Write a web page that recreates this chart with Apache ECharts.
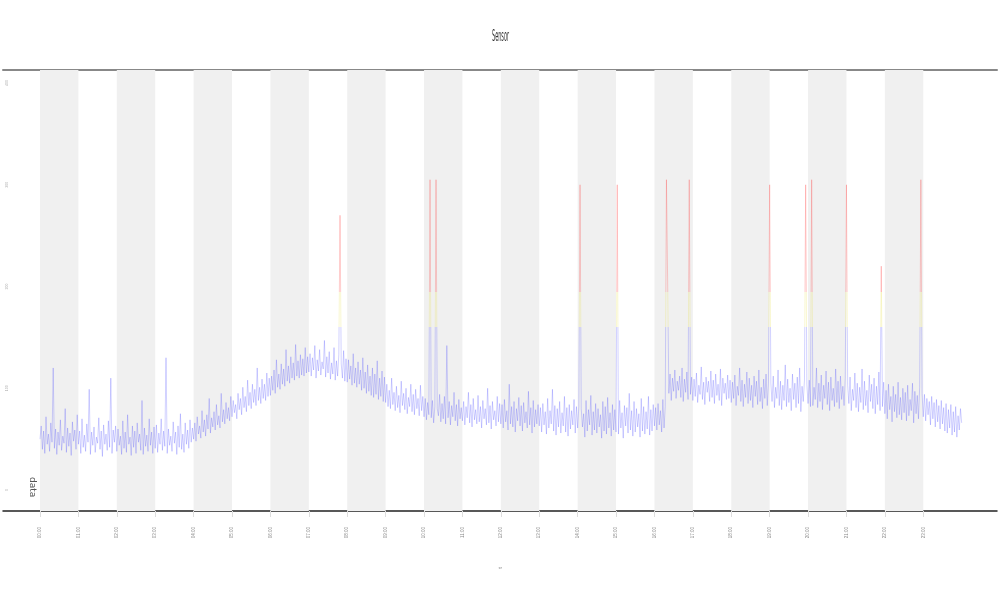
<!DOCTYPE html>
<html>
<head>
<meta charset="utf-8">
<script src="https://cdn.jsdelivr.net/npm/echarts@6/dist/echarts.min.js"></script>
<style>html,body{margin:0;padding:0;background:#fff}#c{width:1000px;height:600px}</style>
</head>
<body>
<div id="c"></div>
<script>
// ---- data (samples per hour) ----
const titleText = 'Sensor';
const xName = 't';
const yName = 'value';
const legendText = 'data';
const hourTicks = [0,1,2,3,4,5,6,7,8,9,10,11,12,13,14,15,16,17,18,19,20,21,22,23];
const hourLabels = ['00:00','01:00','02:00','03:00','04:00','05:00','06:00','07:00','08:00','09:00','10:00','11:00','12:00','13:00','14:00','15:00','16:00','17:00','18:00','19:00','20:00','21:00','22:00','23:00'];
const yTicks = [0,100,200,300,400];
const shadedHours = [[0,1],[2,3],[4,5],[6,7],[8,9],[10,11],[12,13],[14,15],[16,17],[18,19],[20,21],[22,23]];
const h00 = [50,63,40,58,36,72,45,55,38,66,47,120,41,60,35,57,44,69,39,53,46,80,37,61,43,56,34,67,48,59,40,74];
const h01 = [45,58,36,70,42,54,38,65,47,99,35,57,44,62,37,52,46,71,40,58,33,64,45,55,39,68,42,110,36,59,47,63];
const h02 = [38,60,44,53,35,68,41,57,37,74,45,52,34,63,42,58,36,66,47,55,39,88,35,61,43,54,38,70,44,57,36,62];
const h03 = [41,64,37,56,45,70,39,58,43,130,36,60,44,53,38,67,46,57,35,63,42,75,40,55,37,66,45,59,41,69,47,61];
const h04 = [50,66,48,72,55,63,51,78,57,69,53,74,60,90,56,71,62,77,59,84,64,73,61,95,67,79,65,86,70,81,68,92];
const h05 = [72,88,76,84,70,95,79,90,74,101,81,92,77,108,83,96,80,104,86,99,83,120,88,101,85,109,90,104,88,115,92,110];
const h06 = [93,112,98,118,95,128,101,114,99,124,104,119,102,138,107,122,105,131,110,125,108,143,112,127,110,133,113,129,112,140,115,131];
const h07 = [116,134,112,130,118,142,110,128,117,138,113,126,119,147,111,131,115,136,109,125,114,140,108,127,112,133,270,124,110,137,107,129];
const h08 = [106,128,109,122,103,134,105,120,101,126,104,118,98,130,100,116,95,123,97,112,93,120,91,114,94,127,89,110,92,117,87,111];
const h09 = [86,104,82,98,80,110,84,96,78,102,81,93,76,107,83,95,79,100,75,91,82,104,77,94,74,99,80,90,73,103,78,92];
const h10 = [72,90,69,86,74,305,71,88,66,82,305,80,73,94,67,85,70,92,65,142,71,87,64,83,72,96,68,84,63,89,70,81];
const h11 = [68,87,64,82,71,96,66,84,62,90,69,79,65,93,67,82,61,88,70,80,64,100,66,83,60,87,69,78,63,92,67,85];
const h12 = [65,84,61,89,67,78,59,104,65,82,62,87,57,80,68,91,63,83,58,86,66,77,61,97,64,81,56,88,62,79,65,84];
const h13 = [63,81,57,85,64,77,55,90,61,78,65,99,58,83,54,80,62,87,56,76,63,92,57,81,53,84,60,78,64,89,56,82];
const h14 = [61,82,300,80,62,75,52,88,58,79,64,93,54,77,59,85,56,80,62,74,51,87,58,82,55,91,61,76,53,84,59,79];
const h15 = [57,300,55,88,61,76,51,83,63,81,56,95,59,78,53,87,57,80,62,75,52,90,58,82,55,77,60,92,54,79,58,84];
const h16 = [63,81,59,85,64,78,57,89,61,82,305,205,95,114,88,110,97,118,90,107,98,112,91,120,87,109,96,116,89,305,94,111];
const h17 = [88,109,92,115,86,103,94,121,89,106,84,111,96,107,87,117,91,108,85,114,93,104,88,119,83,110,95,105,89,113,90,108];
const h18 = [86,106,90,113,83,102,93,120,87,108,82,104,91,116,85,110,88,103,81,112,92,107,84,118,87,101,80,109,90,114,83,105];
const h19 = [300,105,87,112,81,101,90,118,83,107,79,103,88,123,82,109,86,100,78,114,89,105,81,111,85,120,77,102,87,108,300,104];
const h20 = [85,108,82,305,83,101,89,120,81,105,87,113,79,103,90,117,84,106,78,111,88,100,82,119,86,107,80,112,89,102,83,110];
const h21 = [300,103,85,111,78,99,88,115,81,105,77,101,86,119,79,107,83,98,76,113,87,104,80,110,75,102,84,116,78,220,82,106];
const h22 = [75,98,70,104,79,92,67,102,77,94,71,106,74,91,69,100,76,96,68,103,73,89,78,105,66,97,75,93,70,101,305,95];
const h23 = [72,94,68,90,74,87,64,92,70,86,62,89,67,83,60,88,65,81,58,85,56,79,61,84,54,77,57,82,52,73,59,80];
const h24 = [66];
const valuesByHour = [h00,h01,h02,h03,h04,h05,h06,h07,h08,h09,h10,h11,h12,h13,h14,h15,h16,h17,h18,h19,h20,h21,h22,h23,h24];

// ---- build ----
const seriesData = [];
valuesByHour.forEach((row, h) => row.forEach((v, j) => seriesData.push([h + j / row.length, v])));
const bandData = shadedHours.map(p => [{xAxis: p[0]}, {xAxis: p[1]}]);

const chart = echarts.init(document.getElementById('c'), null, {renderer: 'canvas'});
chart.setOption({
  animation: false,
  backgroundColor: '#ffffff',
  graphic: [
    {type: 'text', left: 492, top: 30, style: {text: titleText, fontSize: 15, fill: '#333', fontFamily: 'DejaVu Sans'}, scaleX: 0.33},
    {type: 'text', x: 37, y: 477, rotation: -Math.PI / 2, style: {text: legendText, fontSize: 9, fill: '#555', fontFamily: 'DejaVu Sans'}}
  ],
  grid: {left: 3, right: 3, top: 70, bottom: 89, containLabel: false, outerBoundsMode: 'none'},
  visualMap: {
    type: 'piecewise', show: false, seriesIndex: 0, dimension: 1,
    pieces: [
      {lte: 160, color: '#3535ff'},
      {gt: 160, lte: 195, color: '#e4dc30'},
      {gt: 195, color: '#ff2020'}
    ]
  },
  xAxis: [{
    type: 'value',
    min: -0.9635, max: 24.92,
    name: xName, nameLocation: 'middle', nameGap: 56, nameRotate: 90,
    nameTextStyle: {fontSize: 6, color: '#777'},
    axisLine: {show: true, onZero: false, lineStyle: {color: '#222', width: 1.5}},
    axisTick: {show: true, customValues: hourTicks, length: 6, lineStyle: {color: '#ddd'}},
    axisLabel: {show: true, customValues: hourTicks, rotate: 90, fontSize: 4.5, color: '#888', margin: 16,
      formatter: v => hourLabels[hourTicks.indexOf(v)] || ''},
    splitLine: {show: false}
  }, {
    type: 'value', position: 'top',
    min: -0.9635, max: 24.92,
    axisLine: {show: true, onZero: false, lineStyle: {color: '#888', width: 2}},
    axisTick: {show: false}, axisLabel: {show: false}, splitLine: {show: false}
  }],
  yAxis: {
    type: 'value',
    min: -20.6, max: 412.8,
    name: yName, nameLocation: 'middle', nameGap: -7, nameRotate: 90,
    nameTextStyle: {fontSize: 4, color: '#aaa'},
    axisLine: {show: false},
    axisTick: {show: false},
    axisLabel: {show: true, inside: true, customValues: yTicks, rotate: 90, fontSize: 3.5, color: '#aaa', margin: 2},
    splitLine: {show: false}
  },
  series: [{
    type: 'line',
    data: seriesData,
    showSymbol: false,
    symbol: 'none',
    sampling: null,
    lineStyle: {width: 0.5, opacity: 0.45},
    z: 3
  }, {
    type: 'line',
    data: [],
    silent: true,
    markArea: {silent: true, itemStyle: {color: '#f0f0f0'}, data: bandData},
    z: 1
  }]
});
</script>
</body>
</html>
